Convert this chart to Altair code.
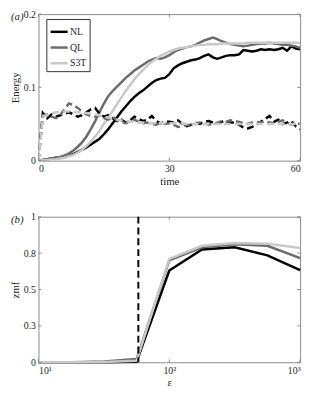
import altair as alt
import pandas as pd

# ---------------- Panel (a) data ----------------
time = list(range(61))
models = ["NL", "QL", "S3T"]
colors = ["#000000", "#6b6b6b", "#c8c8c8"]

nl_solid = [0.000, 0.001, 0.002, 0.003, 0.004, 0.004, 0.005, 0.007, 0.009, 0.012,
            0.015, 0.018, 0.022, 0.026, 0.030, 0.036, 0.043, 0.051, 0.059, 0.067,
            0.074, 0.081, 0.087, 0.092, 0.096, 0.101, 0.106, 0.110, 0.112, 0.113,
            0.118, 0.126, 0.130, 0.133, 0.135, 0.137, 0.138, 0.140, 0.143, 0.145,
            0.141, 0.139, 0.141, 0.143, 0.144, 0.144, 0.145, 0.151, 0.150, 0.149,
            0.150, 0.152, 0.151, 0.152, 0.151, 0.152, 0.154, 0.150, 0.156, 0.153,
            0.152]
ql_solid = [0.000, 0.001, 0.002, 0.003, 0.004, 0.005, 0.007, 0.010, 0.014, 0.019,
            0.025, 0.033, 0.043, 0.054, 0.066, 0.078, 0.088, 0.095, 0.101, 0.107,
            0.113, 0.118, 0.123, 0.127, 0.131, 0.135, 0.138, 0.140, 0.139, 0.141,
            0.144, 0.148, 0.151, 0.153, 0.155, 0.156, 0.158, 0.161, 0.164, 0.166,
            0.168, 0.166, 0.163, 0.161, 0.159, 0.158, 0.157, 0.156, 0.157, 0.158,
            0.159, 0.160, 0.160, 0.161, 0.160, 0.159, 0.158, 0.158, 0.157, 0.156,
            0.154]
s3t_solid = [0.000, 0.0005, 0.001, 0.0015, 0.002, 0.003, 0.004, 0.006, 0.008, 0.011,
             0.015, 0.020, 0.026, 0.033, 0.041, 0.050, 0.059, 0.068, 0.077, 0.086,
             0.095, 0.103, 0.111, 0.118, 0.124, 0.130, 0.135, 0.139, 0.143, 0.146,
             0.149, 0.151, 0.153, 0.154, 0.155, 0.156, 0.157, 0.158, 0.158, 0.159,
             0.159, 0.159, 0.160, 0.160, 0.160, 0.160, 0.160, 0.160, 0.161, 0.161,
             0.161, 0.161, 0.161, 0.161, 0.161, 0.161, 0.161, 0.161, 0.161, 0.161,
             0.161]

nl_dash = [0.000, 0.065, 0.058, 0.063, 0.060, 0.062, 0.064, 0.066, 0.063, 0.060,
           0.062, 0.066, 0.070, 0.072, 0.064, 0.060, 0.062, 0.058, 0.054, 0.056,
           0.052, 0.055, 0.060, 0.057, 0.054, 0.056, 0.061, 0.054, 0.051, 0.053,
           0.053, 0.052, 0.055, 0.050, 0.047, 0.049, 0.052, 0.050, 0.053, 0.054,
           0.052, 0.051, 0.053, 0.054, 0.052, 0.052, 0.049, 0.045, 0.044, 0.046,
           0.049, 0.053, 0.057, 0.061, 0.053, 0.056, 0.050, 0.052, 0.054, 0.047,
           0.043]
ql_dash = [0.000, 0.062, 0.063, 0.060, 0.058, 0.062, 0.071, 0.078, 0.076, 0.072,
           0.067, 0.063, 0.061, 0.060, 0.062, 0.058, 0.056, 0.060, 0.055, 0.053,
           0.051, 0.054, 0.056, 0.053, 0.051, 0.052, 0.050, 0.049, 0.052, 0.050,
           0.051, 0.049, 0.046, 0.047, 0.049, 0.048, 0.050, 0.052, 0.051, 0.049,
           0.050, 0.052, 0.054, 0.053, 0.055, 0.054, 0.053, 0.051, 0.050, 0.052,
           0.053, 0.052, 0.054, 0.052, 0.051, 0.053, 0.055, 0.052, 0.049, 0.051,
           0.050]
s3t_dash = [0.000, 0.060, 0.062, 0.064, 0.066, 0.067, 0.067, 0.067, 0.067, 0.066,
            0.066, 0.065, 0.064, 0.063, 0.062, 0.060, 0.059, 0.057, 0.056, 0.055,
            0.054, 0.053, 0.053, 0.052, 0.052, 0.051, 0.051, 0.051, 0.051, 0.051,
            0.051, 0.051, 0.051, 0.051, 0.050, 0.050, 0.050, 0.050, 0.050, 0.050,
            0.050, 0.050, 0.050, 0.050, 0.050, 0.050, 0.050, 0.050, 0.050, 0.050,
            0.050, 0.050, 0.050, 0.050, 0.050, 0.050, 0.050, 0.050, 0.050, 0.050,
            0.050]

time_ticks = [0, 30, 60]
energy_ticks = [0, 0.1, 0.2]

# ---------------- Panel (b) data ----------------
eps = [10, 17.78, 31.62, 56.23, 100, 177.8, 316.2, 562.3, 1000]
zmf_nl = [0.000, 0.000, 0.000, 0.004, 0.630, 0.775, 0.790, 0.735, 0.633]
zmf_ql = [0.000, 0.001, 0.005, 0.022, 0.700, 0.790, 0.810, 0.800, 0.715]
zmf_s3t = [0.000, 0.000, 0.002, 0.010, 0.710, 0.800, 0.820, 0.815, 0.785]
eps_crit = [58]
eps_ticks = [10, 100, 1000]
zmf_ticks = [0, 0.25, 0.5, 0.75, 1]

FONT = "Liberation Serif"
FRAME = "#8a8a8a"
TXT = "#262626"

W, H1, H2 = 266, 149, 148
TICK = 3

df_solid = pd.DataFrame([
    {"t": t, "E": v, "model": m}
    for m, vals in zip(models, [nl_solid, ql_solid, s3t_solid])
    for t, v in zip(time, vals)
])
df_dash = pd.DataFrame([
    {"t": t, "E": v, "model_d": m}
    for m, vals in zip(models, [nl_dash, ql_dash, s3t_dash])
    for t, v in zip(time, vals)
])
df_b = pd.DataFrame([
    {"eps": e, "zmf": v, "model": m}
    for m, vals in zip(models, [zmf_nl, zmf_ql, zmf_s3t])
    for e, v in zip(eps, vals)
])


def title(txt):
    return alt.TitleParams(txt, anchor="start", frame="group", orient="top",
                           font=FONT, fontSize=11, fontStyle="italic",
                           fontWeight="normal", color=TXT, dx=-28, offset=-13)


def yaxis(vals, ttl):
    return alt.Axis(values=vals, format="~g", title=ttl, titleX=-23,
                    titleBaseline="middle", labelPadding=3)


def inner_ticks(xsc, ysc, xax, yax, xvals, yvals, h):
    xs = pd.DataFrame({"v": xvals})
    ys = pd.DataFrame({"v": yvals})
    common = dict(color=FRAME, strokeWidth=1)
    xb = alt.Chart(xs).mark_rule(**common).encode(
        x=alt.X("v:Q", scale=xsc, axis=xax), y=alt.value(h), y2=alt.value(h - TICK))
    xt = alt.Chart(xs).mark_rule(**common).encode(
        x=alt.X("v:Q", scale=xsc, axis=xax), y=alt.value(0), y2=alt.value(TICK))
    yl = alt.Chart(ys).mark_rule(**common).encode(
        y=alt.Y("v:Q", scale=ysc, axis=yax), x=alt.value(0), x2=alt.value(TICK))
    yr = alt.Chart(ys).mark_rule(**common).encode(
        y=alt.Y("v:Q", scale=ysc, axis=yax), x=alt.value(W - TICK), x2=alt.value(W))
    return [xb, xt, yl, yr]


# ---------------- Panel (a) ----------------
xsa = alt.Scale(domain=[0, 60], nice=False, zero=False)
ysa = alt.Scale(domain=[0, 0.2], nice=False)
col_a = alt.Scale(domain=models, range=colors)
xax_a = alt.Axis(values=time_ticks, title="time", labelPadding=3, titlePadding=2)
yax_a = yaxis(energy_ticks, "Energy")

solid = alt.Chart(df_solid).mark_line(strokeWidth=2.5, clip=True).encode(
    x=alt.X("t:Q", scale=xsa, axis=xax_a),
    y=alt.Y("E:Q", scale=ysa, axis=yax_a),
    color=alt.Color("model:N", scale=col_a, legend=alt.Legend(
        orient="none", legendX=8, legendY=5, title=None, symbolType="stroke",
        symbolSize=300, symbolStrokeWidth=2.5, labelFont=FONT, labelFontSize=10,
        labelColor=TXT, strokeColor="#333333", fillColor="white", padding=3,
        rowPadding=1, labelOffset=1, cornerRadius=0)),
)
dash = alt.Chart(df_dash).mark_line(strokeWidth=2.5, strokeDash=[7, 4], clip=True).encode(
    x=alt.X("t:Q", scale=xsa, axis=xax_a),
    y=alt.Y("E:Q", scale=ysa, axis=yax_a),
    color=alt.Color("model_d:N", scale=alt.Scale(domain=models, range=colors), legend=None),
)
panel_a = alt.layer(
    solid, dash, *inner_ticks(xsa, ysa, xax_a, yax_a, time_ticks, energy_ticks, H1)
).resolve_scale(color="independent").properties(width=W, height=H1, title=title("(a)"))

# ---------------- Panel (b) ----------------
xsb = alt.Scale(type="log", domain=[10, 1000], nice=False)
ysb = alt.Scale(domain=[0, 1], nice=False)
xax_b = alt.Axis(values=eps_ticks, title="ε", labelPadding=3, titlePadding=2,
                 labelExpr="datum.value == 10 ? '10¹' : datum.value == 100 ? '10²' : '10³'")
yax_b = yaxis(zmf_ticks, "zmf")

lines_b = alt.Chart(df_b).mark_line(strokeWidth=2.5).encode(
    x=alt.X("eps:Q", scale=xsb, axis=xax_b),
    y=alt.Y("zmf:Q", scale=ysb, axis=yax_b),
    color=alt.Color("model:N", scale=alt.Scale(domain=models, range=colors), legend=None),
)
crit = alt.Chart(pd.DataFrame({"e": eps_crit})).mark_rule(
    color="#000000", strokeWidth=2, strokeDash=[7, 4]).encode(
    x=alt.X("e:Q", scale=xsb, axis=xax_b),
    y=alt.value(0), y2=alt.value(H2))
panel_b = alt.layer(
    lines_b, crit, *inner_ticks(xsb, ysb, xax_b, yax_b, eps_ticks, zmf_ticks, H2)
).properties(width=W, height=H2, title=title("(b)"))

chart = alt.vconcat(panel_a, panel_b, spacing=57, bounds="flush").properties(
    padding={"left": 1, "top": -3, "right": 0, "bottom": 0}
).configure_axis(
    labelFont=FONT, titleFont=FONT, labelFontSize=10, titleFontSize=11,
    titleFontWeight="normal", labelColor=TXT, titleColor=TXT, grid=False,
    ticks=False, tickSize=0, domain=False,
).configure_view(stroke=FRAME, strokeWidth=1)

chart.save("out.html", embed_options={"renderer": "svg", "actions": False})
